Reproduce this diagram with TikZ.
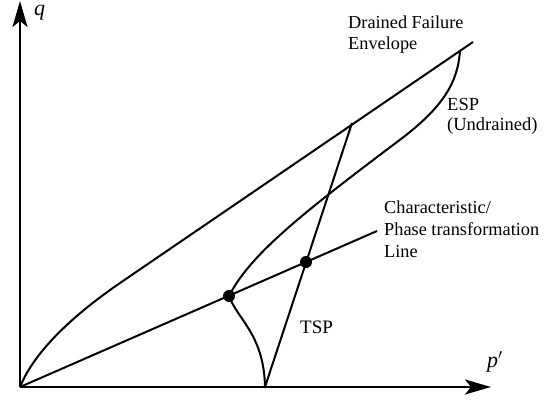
\documentclass[tikz,border=0pt]{standalone}
\usepackage{fontspec}
\setmainfont{Liberation Serif}
\usetikzlibrary{arrows.meta}
\tikzset{
  ln/.style={line width=2pt, line join=round},
  axis/.style={line width=2pt, -{Stealth[length=26pt,width=15pt,inset=6pt]}},
  lbl/.style={inner sep=0pt, anchor=base west, align=left, font=\fontsize{18.3}{21}\selectfont},
  axlbl/.style={inner sep=0pt, anchor=base west, font=\fontsize{22}{22}\selectfont\itshape},
  dotpt/.style={circle, fill=black, inner sep=0pt, minimum size=12pt},
}
\begin{document}
\begin{tikzpicture}[x=1pt,y=-1pt]
\useasboundingbox (0,0) rectangle (548,401);
% key points
\coordinate (O) at (20,387);
\coordinate (Ytip) at (20,1);
\coordinate (Xtip) at (491,387);
\coordinate (E1) at (120,283);
\coordinate (Eend) at (473,42);
\coordinate (Etop) at (460,50);
\coordinate (Emid) at (397,142);
\coordinate (T0) at (265,387);
\coordinate (T1) at (352,123);
\coordinate (C1) at (377,231);
% dots
\node[dotpt] (D1) at (229,296) {};
\node[dotpt] (D2) at (306,262) {};
% axes
\draw[axis] (O) -- (Ytip);
\draw[axis] (O) -- (Xtip);
% drained failure envelope
\draw[ln] (O) .. controls (35,350) and (75,314) .. (E1) -- (Eend);
% characteristic line
\draw[ln] (O) -- (C1);
% TSP
\draw[ln] (T0) -- (T1);
% ESP
\draw[ln] (T0) .. controls (264,335) and (238,320) .. (D1.center)
  .. controls (250,255) and (300,215) .. (Emid)
  .. controls (440,110) and (458,85) .. (Etop);
% labels
\node[axlbl] (q) at (34,16) {q};
\node[axlbl] (p) at (487,367) {p$^{\prime}$};
\node[lbl] (dfe) at (348,50) {Drained Failure\\Envelope};
\node[lbl, font=\fontsize{18.5}{20}\selectfont] (esp) at (447,130) {ESP\\(Undrained)};
\node[lbl, font=\fontsize{18.3}{22}\selectfont] (cpt) at (384,257) {Characteristic/\\Phase transformation\\Line};
\node[lbl, font=\fontsize{19}{20}\selectfont] (tsp) at (300,333) {TSP};
\end{tikzpicture}
\end{document}
